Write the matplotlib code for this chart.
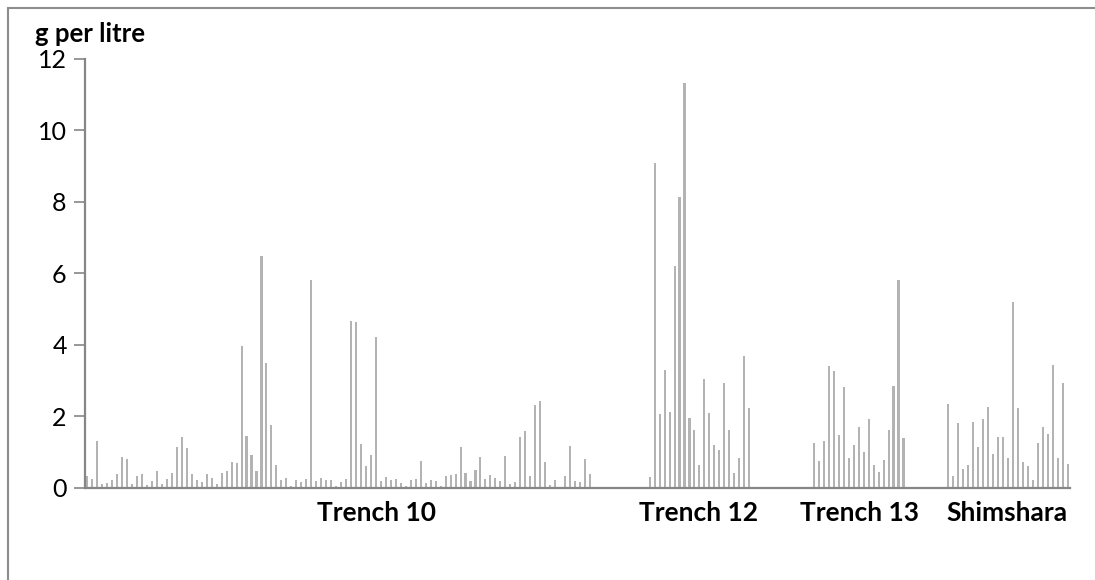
import numpy as np
import matplotlib
matplotlib.use("Agg")
import matplotlib.pyplot as plt
from matplotlib.patches import Rectangle

plt.rcParams['font.family'] = ['Lato', 'DejaVu Sans']

# g per litre
trench10 = [0.31, 0.23, 1.31, 0.11, 0.14, 0.20, 0.37, 0.85, 0.81, 0.09,
            0.31, 0.39, 0.07, 0.17, 0.45, 0.11, 0.25, 0.41, 1.14, 1.42,
            1.10, 0.37, 0.20, 0.15, 0.37, 0.28, 0.09, 0.41, 0.45, 0.71,
            0.68, 3.95, 1.45, 0.90, 0.46, 6.48, 3.49, 1.74, 0.62, 0.21,
            0.28, 0.03, 0.22, 0.15, 0.25, 5.80, 0.17, 0.26, 0.21, 0.20,
            0.05, 0.15, 0.25, 4.65, 4.63, 1.22, 0.59, 0.92, 4.21, 0.18,
            0.29, 0.21, 0.23, 0.12, 0.05, 0.20, 0.23, 0.75, 0.13, 0.20,
            0.18, 0.05, 0.33, 0.36, 0.37, 1.14, 0.42, 0.18, 0.50, 0.85,
            0.25, 0.35, 0.26, 0.17, 0.88, 0.10, 0.15, 1.42, 1.58, 0.32,
            2.31, 2.41, 0.71, 0.06, 0.22, 0.0, 0.32, 1.17, 0.18, 0.16,
            0.79, 0.38]
trench12 = [0.29, 9.10, 2.05, 3.30, 2.12, 6.21, 8.14, 11.34, 1.95, 1.62,
            0.62, 3.03, 2.08, 1.19, 1.06, 2.92, 1.60, 0.41, 0.84, 3.67,
            2.24]
trench13 = [1.26, 0.75, 1.29, 3.39, 3.25, 1.48, 2.81, 0.84, 1.19, 1.70,
            0.99, 1.93, 0.63, 0.43, 0.77, 1.62, 2.85, 5.80, 1.38]
shimshara = [2.33, 0.32, 1.81, 0.52, 0.63, 1.84, 1.13, 1.91, 2.26, 0.94,
             1.41, 1.41, 0.84, 5.19, 2.22, 0.72, 0.60, 0.20, 1.24, 1.69,
             1.50, 3.43, 0.84, 2.93, 0.65]

groups = ['Trench 10', 'Trench 12', 'Trench 13', 'Shimshara']
group_data = [trench10, trench12, trench13, shimshara]
gap_after = [11, 12, 8, 0]   # empty categories between groups
label_pos = [58.2, 122.9, 155.2, 184.8]

values = []
for d, g in zip(group_data, gap_after):
    values += d + [np.nan] * g
values = np.array(values)
x = np.arange(len(values))

fig = plt.figure(figsize=(10.95, 5.8), dpi=100)
W, H = 1095, 580
ax = fig.add_axes([84.8 / W, (H - 487.5) / H, (1070.2 - 84.8) / W, (487.5 - 59) / H])

ax.bar(x, np.nan_to_num(values), width=0.42, color='#b3b3b3', linewidth=0)

ax.set_xlim(-0.5, len(values) - 0.5)
ax.set_ylim(0, 12)
ax.set_yticks(range(0, 13, 2))
ax.set_xticks([])
ax.tick_params(axis='y', length=8, width=1.2, color='#868686', labelsize=18, pad=5)
for s in ['top', 'right']:
    ax.spines[s].set_visible(False)
for s in ['left', 'bottom']:
    ax.spines[s].set_color('#868686')
    ax.spines[s].set_linewidth(1.6)

for name, p in zip(groups, label_pos):
    ax.text(p, -25.5 / 428.5, name, transform=ax.get_xaxis_transform(),
            ha='center', va='center', fontsize=19, fontweight='bold')

fig.text(35 / W, (H - 34) / H, 'g per litre', ha='left', va='center',
         fontsize=18.5, fontweight='bold')

# chart area border (top and left edges visible)
fig.patches.append(Rectangle((7.5 / W, -0.1), 1.2, (H - 7.5) / H + 0.1,
                             transform=fig.transFigure, fill=False,
                             edgecolor='#8c8c8c', linewidth=1.5))

fig.savefig('out.png', dpi=100)
